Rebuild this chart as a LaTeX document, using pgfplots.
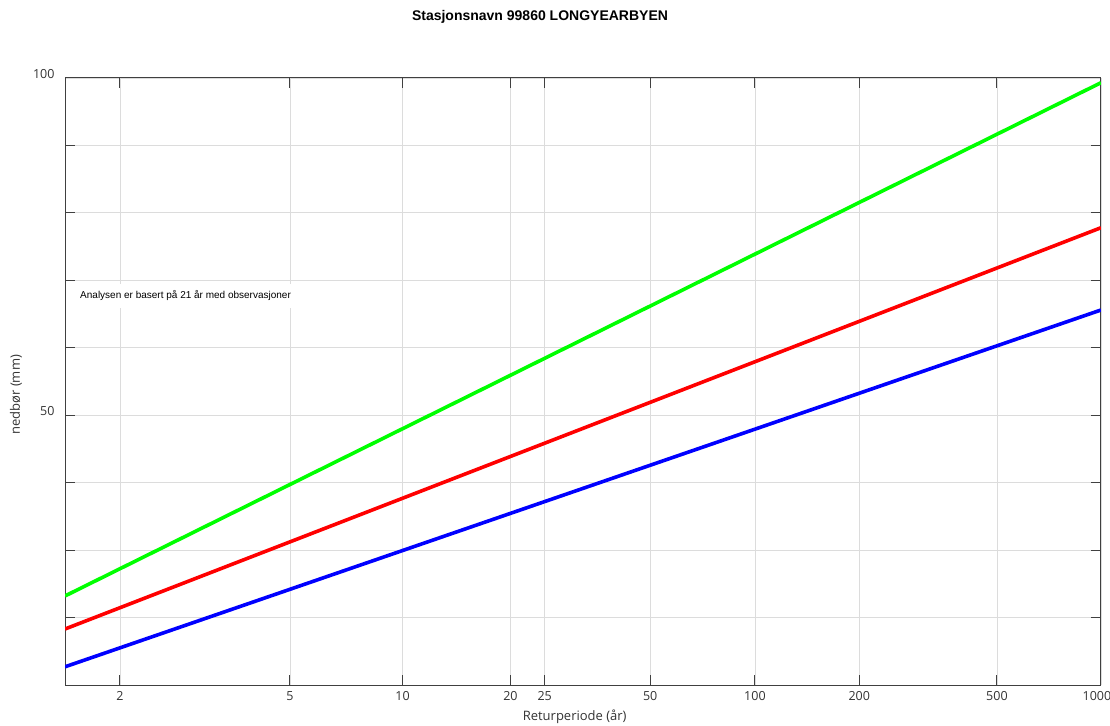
\documentclass[border=0pt]{standalone}
\usepackage{pgfplots}
\pgfplotsset{compat=1.18}
\usepackage{fontspec}
\setmainfont{Open Sans}
\newfontfamily\arial{Liberation Sans}
\definecolor{axgray}{HTML}{404040}
\definecolor{txtgray}{HTML}{333333}
\definecolor{gridgray}{HTML}{DCDCDC}
\begin{document}
\begin{tikzpicture}[x=1pt,y=1pt]
\useasboundingbox (-65,-40) rectangle (1045,685);
\begin{axis}[
  scale only axis,
  width=1036pt, height=607pt,
  xmin=0, xmax=6.9073,
  ymin=10, ymax=100,
  xtick={0.3665,1.4999,2.2504,2.9702,3.1985,3.9019,4.6001,5.2958,6.2136,6.9073},
  xticklabels={2,5,10,20,25,50,100,200,500,{\hspace*{-8pt}1000}},
  ytick={10,20,30,40,50,60,70,80,90,100},
  yticklabels={,,,,50,,,,,100},
  grid=major,
  major grid style={gridgray, line width=0.8pt},
  tick align=inside,
  major tick length=10pt,
  tick style={axgray, line width=1pt},
  axis line style={axgray, line width=1pt},
  tick label style={font=\fontsize{12.5}{14}\selectfont, text=txtgray},
  xticklabel style={yshift=-3pt},
  yticklabel style={xshift=-7pt, yshift=4pt},
  xlabel={Returperiode (år)},
  ylabel={nedbør (mm)},
  label style={font=\fontsize{13}{15}\selectfont, text=txtgray},
  xlabel style={at={(axis description cs:0.492,0)}, anchor=north, yshift=-21pt},
  ylabel style={at={(axis description cs:-0.0473,0.478)}, anchor=center, rotate=0},
  clip=true,
]
\addplot[color={rgb,255:red,0;green,255;blue,0}, line width=3.6pt] coordinates {(0,23.2) (6.9073,99.3)};
\addplot[color={rgb,255:red,255;green,0;blue,0}, line width=3.6pt] coordinates {(0,18.3) (6.9073,77.8)};
\addplot[color={rgb,255:red,0;green,0;blue,255}, line width=3.6pt] coordinates {(0,12.7) (6.9073,65.6)};
\node[anchor=west, fill=white, inner xsep=0pt, inner ysep=7pt, font=\arial\fontsize{10}{12}\selectfont] at (axis description cs:0.0145,0.641) {Analysen er basert på 21 år med observasjoner};
\end{axis}
\node[font=\arial\bfseries\fontsize{14}{16}\selectfont] at (475,668) {Stasjonsnavn 99860 LONGYEARBYEN};
\end{tikzpicture}
\end{document}
